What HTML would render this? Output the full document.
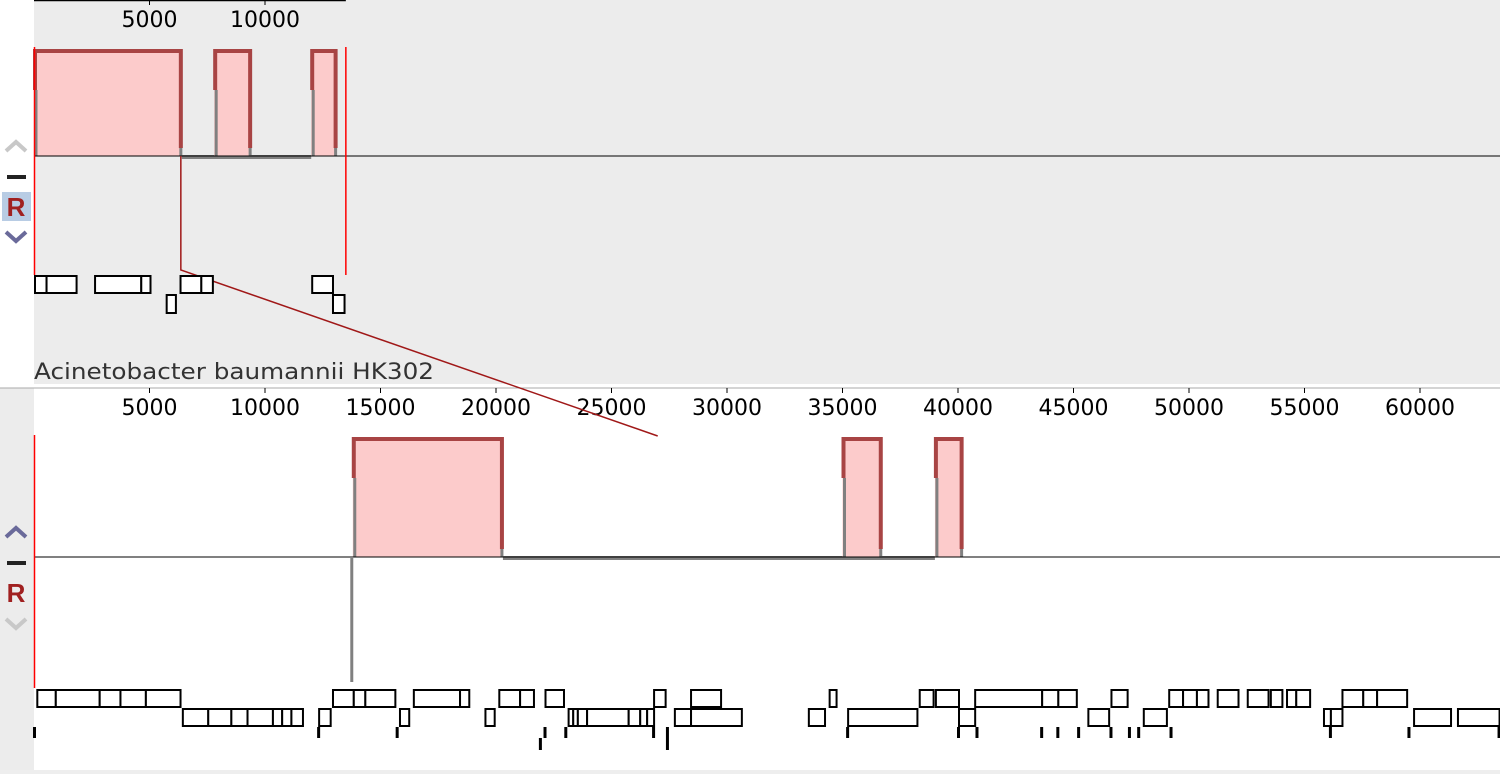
<!DOCTYPE html>
<html><head><meta charset="utf-8"><style>
body{margin:0;background:#fff;width:1500px;height:774px;overflow:hidden;font-family:"Liberation Sans","DejaVu Sans",sans-serif}
svg{display:block}
</style></head><body>
<svg id="c" width="1500" height="774" xmlns="http://www.w3.org/2000/svg">
<rect x="0" y="0" width="1500" height="774" fill="#fff"/>
<rect x="34" y="0" width="1466" height="384" fill="#ececec"/>
<rect x="0" y="388" width="34" height="382" fill="#ececec"/>
<rect x="0" y="770" width="1500" height="4" fill="#eeeeee"/>
<line x1="0" y1="388" x2="1500" y2="388" stroke="#aaa"/>
<text x="34" y="379" font-size="22" textLength="400" lengthAdjust="spacingAndGlyphs" fill="#333" font-family="DejaVu Sans, sans-serif">Acinetobacter baumannii HK302</text>
<g id="g"></g>
<g>
<path d="M6,151 L16,142 L26,151" fill="none" stroke="#c8c8c8" stroke-width="4"/>
<rect x="7" y="175" width="19" height="4" fill="#222"/>
<rect x="2" y="192" width="29" height="29" fill="#b8cce4"/>
<text x="16" y="216" font-size="26" font-weight="bold" fill="#a02020" text-anchor="middle">R</text>
<path d="M6,232 L16,241 L26,232" fill="none" stroke="#6a6a9a" stroke-width="4"/>
</g>
<g>
<path d="M6,537 L16,528 L26,537" fill="none" stroke="#6a6a9a" stroke-width="4"/>
<rect x="7" y="561" width="19" height="4" fill="#222"/>
<text x="16" y="602" font-size="26" font-weight="bold" fill="#a02020" text-anchor="middle">R</text>
<path d="M6,619 L16,628 L26,619" fill="none" stroke="#c8c8c8" stroke-width="4"/>
</g>
</svg>
<script>
const topTicks=[5000,10000];
const botTicks=[5000,10000,15000,20000,25000,30000,35000,40000,45000,50000,55000,60000];
const topLen=13500;
const botLen=63500;
const topBlocks=[[0,6400],[7800,9400],[12000,13100]];
const botBlocks=[[13800,20300],[35000,36700],[39000,40200]];
const connectFrom=6400;
const connectTo=27000;
const topGenesRow1=[[0,500,1800],[2600,4600,5000],[6300,7200,7700],[12000,12900]];
const topGenesRow2=[[5700,6100],[12900,13400]];
const botGenesRow1=[[100,900,2800,3700,4800,6300],[12900,13800,14300,15600],[16400,18400,18800],[20100,21000],[21000,21600],[22100,22900],[26800,27300],[28400,29700],[34400,34700],[38300,38900],[39000,40000],[40700,43600,44300,45100],[46600,47300],[49100,49700,50300,50800],[51200,52100],[52500,53400],[53500,54000],[54200,54600],[54600,55200],[56600,57500,58100,59400]];
const botGenesRow2=[[6400,7500,8500,9200,10300,10700,11100,11600],[12300,12800],[15800,16200],[19500,19900],[23100,23300,23500,23900,25700,26200,26500,26800],[27700,28400],[28400,30600],[33500,34200],[35200,38200],[40000,40700],[45600,46500],[48000,49000],[55800,56100,56600],[59700,61300],[61600,63400]];
const botTicksRow3=[0,12300,15700,22100,23000,26800,27400,35200,40000,40800,43600,44300,45200,46600,47400,47800,49200,56100,59500,63400];
const botTicksRow4=[21900,27400];

const NS="http://www.w3.org/2000/svg";
const G=document.getElementById('g');
const X=bp=>34+bp*0.0231;
function el(tag,attrs){const e=document.createElementNS(NS,tag);for(const k in attrs)e.setAttribute(k,attrs[k]);G.appendChild(e);return e;}

let e=el('line',{x1:34,y1:0.5,x2:X(topLen),y2:0.5,stroke:'#000','stroke-width':1.5});


topTicks.forEach(t=>{
 let l=el('line',{x1:X(t),y1:0,x2:X(t),y2:5,stroke:'#000'});
 
 
 let s=el('text',{x:X(t),y:27,'font-size':22,'text-anchor':'middle',fill:'#000','font-family':'DejaVu Sans, sans-serif'});
 s.textContent=t;
 
 
});
botTicks.forEach(t=>{
 let l=el('line',{x1:X(t),y1:388,x2:X(t),y2:393,stroke:'#000'});
 
 
 let s=el('text',{x:X(t),y:415,'font-size':22,'text-anchor':'middle',fill:'#000','font-family':'DejaVu Sans, sans-serif'});
 s.textContent=t;
 
 
});

function drawPanel(blocks,len,top,mid,bottom,prefix){
 let b=el('line',{x1:X(blocks[0][1]),y1:mid+1,x2:X(blocks[blocks.length-1][0]),y2:mid+1,stroke:'#808080','stroke-width':4});
 
 
 blocks.forEach(bl=>{
  let r=el('rect',{x:X(bl[0]),y:top,width:X(bl[1])-X(bl[0]),height:mid-top,fill:'#fccbcb'});
  
  
  let p=el('path',{d:`M${X(bl[0])+1},${top+40} L${X(bl[0])+1},${top+1} L${X(bl[1])-1},${top+1} L${X(bl[1])-1},${mid-8}`,fill:'none',stroke:'#a84444','stroke-width':4});
  
  
  let q=el('path',{d:`M${X(bl[0])+2},${top+40} L${X(bl[0])+2},${mid} M${X(bl[1])-1},${mid-8} L${X(bl[1])-1},${mid}`,fill:'none',stroke:'#808080','stroke-width':3});
  
  
 });
 let m=el('line',{x1:34,y1:mid,x2:1500,y2:mid,stroke:'#000','stroke-width':1});
 
 
 [0,len].forEach(v=>{
  let l=el('line',{x1:X(v)+(v?0:0.5),y1:top-3,x2:X(v)+(v?0:0.5),y2:bottom,stroke:'#ff0000','stroke-width':1.5});
  
  
 });
}
drawPanel(topBlocks,topLen,50,156,275,'top');
drawPanel(botBlocks,botLen,438,557,688,'bottom');
let gv=el('line',{x1:X(botBlocks[0][0])-1,y1:557,x2:X(botBlocks[0][0])-1,y2:682,stroke:'#808080','stroke-width':3});



let cn=el('path',{d:`M${X(connectFrom)-1},156 L${X(connectFrom)-1},270 L${X(connectTo)},436`,fill:'none',stroke:'#a01818','stroke-width':1.5});



function genes(rows,y,h,prefix){
 rows.forEach(gr=>{
  for(let i=0;i<gr.length-1;i++){
   let r=el('rect',{x:X(gr[i])+1,y:y+1,width:Math.max(2,X(gr[i+1])-X(gr[i])),height:h-2,fill:'#fff',stroke:'#000','stroke-width':2});
   
   
  }
 });
}
genes(topGenesRow1,275,19,'top-forward');
genes(topGenesRow2,294,20,'top-reverse');
genes(botGenesRow1,689,19,'bottom-forward');
genes(botGenesRow2,708,19,'bottom-reverse');
botTicksRow3.forEach(v=>{
 let r=el('rect',{x:X(v)-1,y:727,width:3,height:11,fill:'#000'});
 
 
});
botTicksRow4.forEach(v=>{
 let r=el('rect',{x:X(v)-1,y:738,width:3,height:12,fill:'#000'});
 
 
});
</script>
</body></html>
